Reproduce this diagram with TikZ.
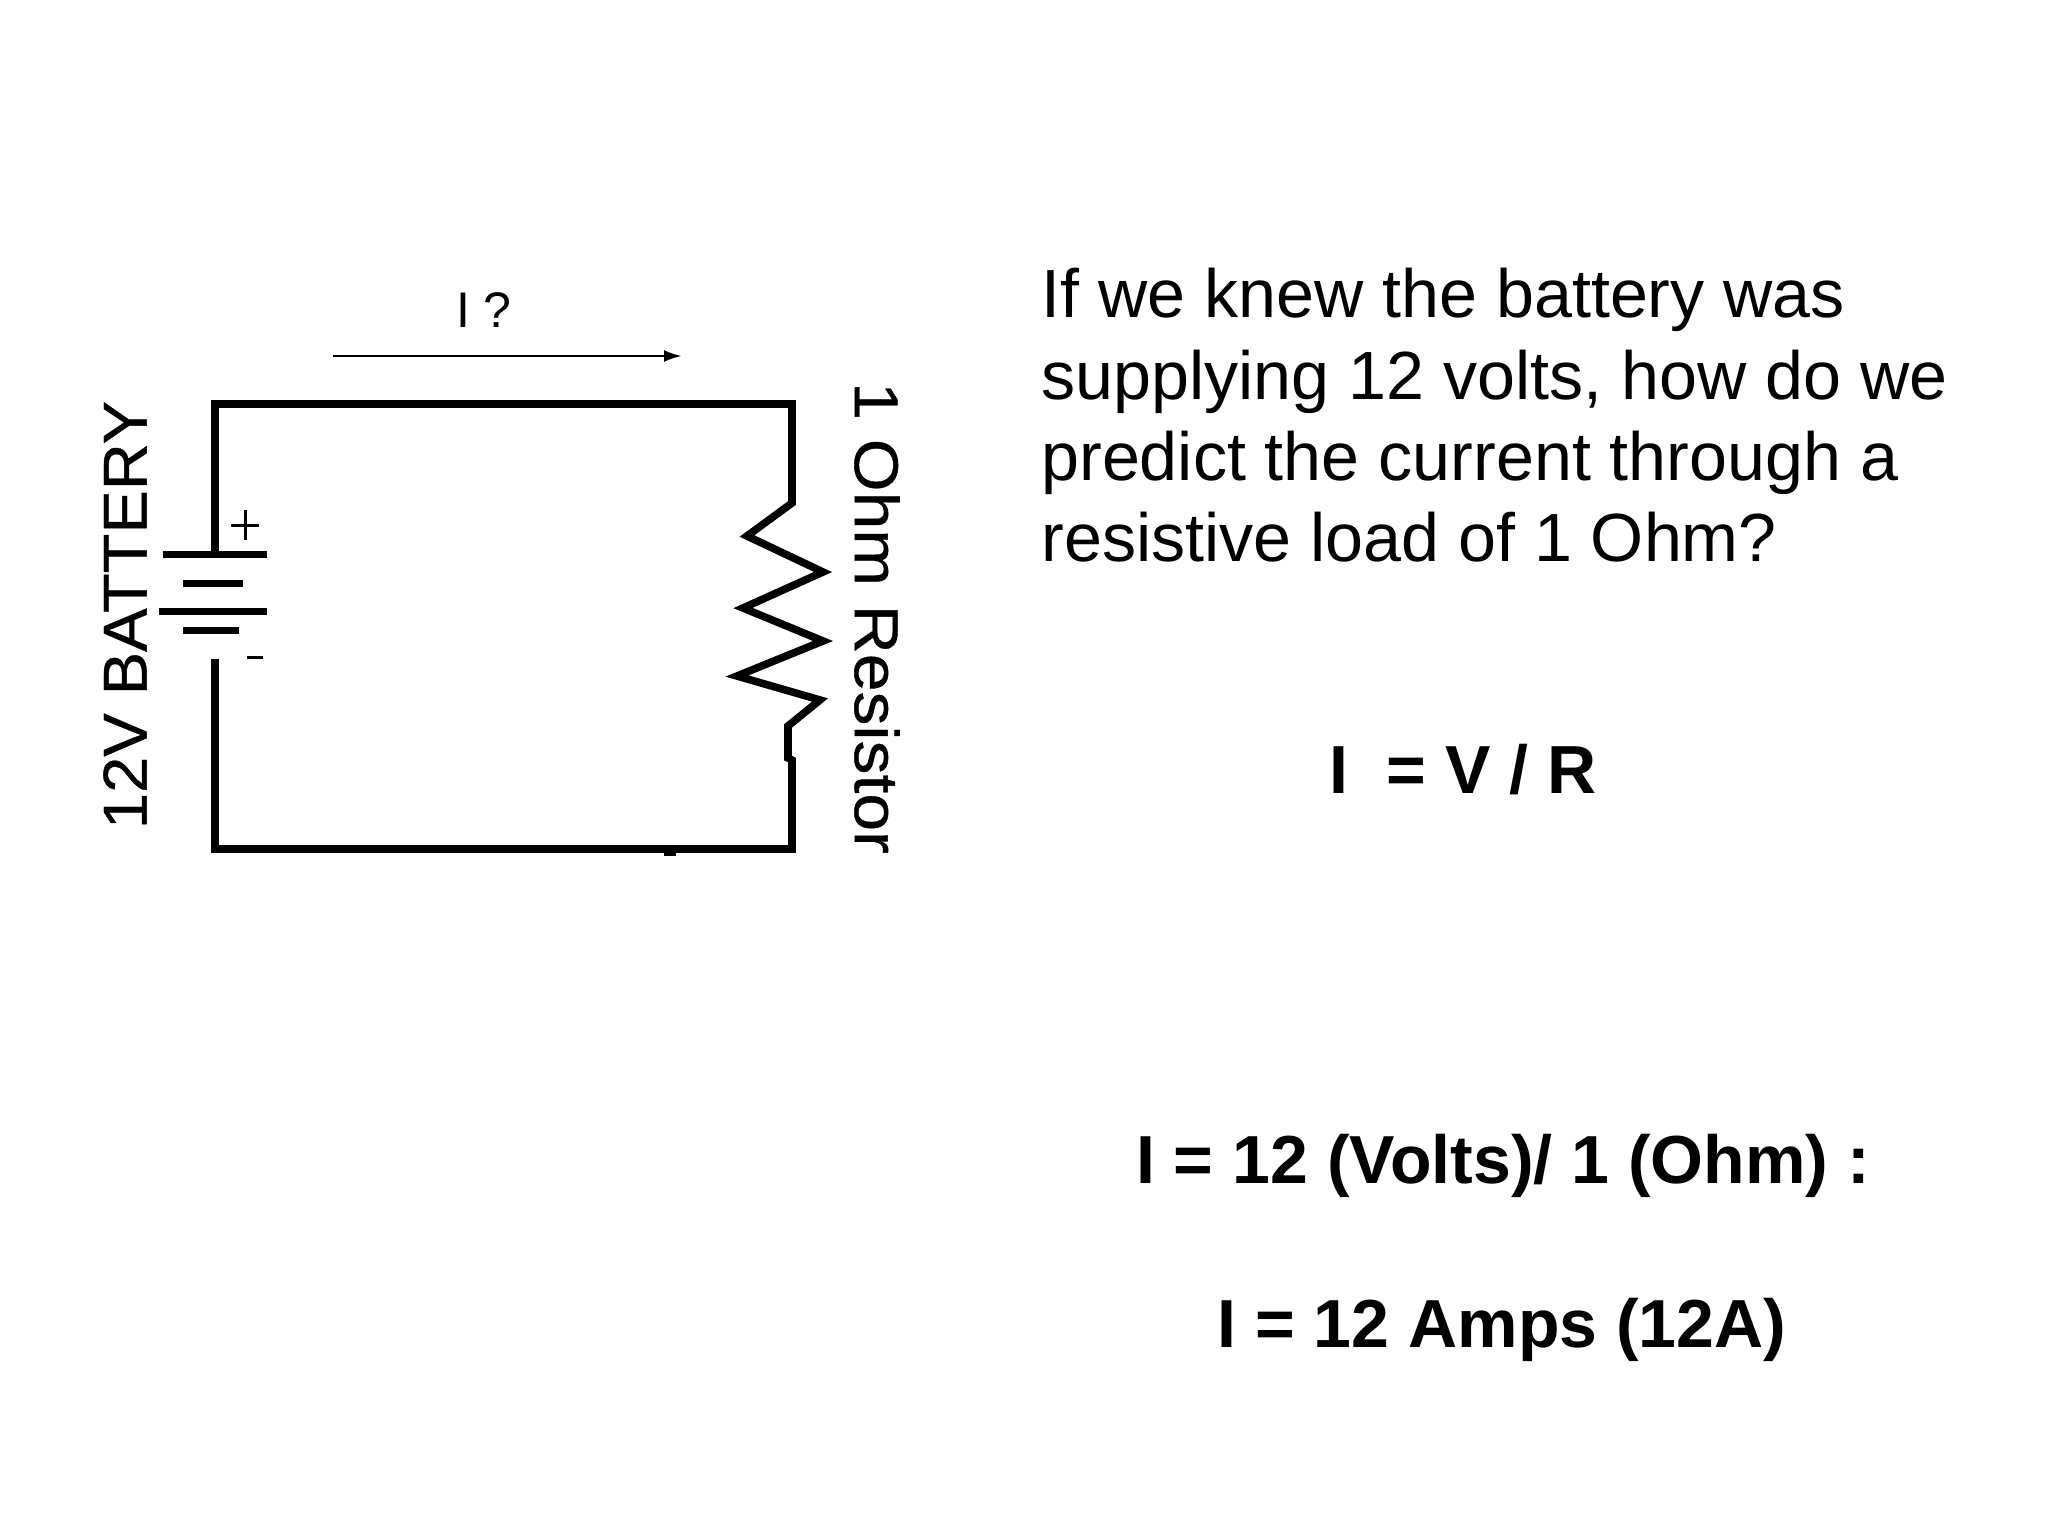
\documentclass[tikz,border=0pt]{standalone}
\usepackage{fontspec}
\setmainfont{Liberation Sans}
\newfontfamily\pixA{Liberation Sans}[FakeBold=0.6,FakeStretch=1.05]
\newfontfamily\pixB{Liberation Sans}[FakeBold=0.6,FakeStretch=1.095]
\usetikzlibrary{arrows.meta}
\tikzset{
 wire/.style={line width=3.8pt,line join=miter,line cap=butt,black},
 plate/.style={line width=3.5pt,black},
 thin sign/.style={line width=1.5pt,black},
 flow/.style={line width=1.4pt,black,-{Latex[length=9pt,width=6pt]}},
 big/.style={font=\fontsize{34.1}{40.6}\selectfont,align=left,inner sep=0pt},
 eq/.style={font=\fontsize{34}{40}\selectfont\bfseries,inner sep=0pt,anchor=center},
 rot/.style={inner sep=0pt}
}
\begin{document}
\begin{tikzpicture}[x=0.5pt,y=-0.5pt]
\useasboundingbox (0,0) rectangle (2048,1536);
% corners and terminals
\coordinate (plusT) at (215,554);
\coordinate (minusT) at (215,659);
\coordinate (tl) at (215,404);
\coordinate (tr) at (792,404);
\coordinate (bl) at (215,849);
\coordinate (br) at (792,849);
\draw[wire] (plusT) -- (tl) -- (tr) -- (792,503)
  -- (747,536) -- (823,572) -- (743,608) -- (823,641) -- (737,676) -- (820,700)
  -- (788,726) -- (788,758) -- (792,760) -- (br) -- (bl) -- (minusT);
% battery plates
\draw[plate] (163,554) -- (267,554);
\draw[plate] (183,583) -- (243,583);
\draw[plate] (159,611) -- (267,611);
\draw[plate] (183,630) -- (239,630);
% signs
\draw[thin sign] (231,525) -- (259,525) (245,510) -- (245,540);
\draw[thin sign] (247,657) -- (263,657);
% artefacts under the wire
\fill (664,852) rectangle (676,856);
\fill (690,853) -- (720,850) -- (690,850) -- cycle;
% current arrow
\coordinate (fa) at (333,356);
\coordinate (fb) at (682,356);
\draw[flow] (fa) -- (fb);
\node[inner sep=0pt,font=\fontsize{25}{28}\selectfont] (iq) at (484,310) {I ?};
% rotated labels
\node[rot,rotate=90,font=\pixA\fontsize{31}{34}\selectfont] (bat) at (125,615) {12V BATTERY};
\node[rot,rotate=-90,font=\pixB\fontsize{31}{34}\selectfont] (res) at (877,618) {1 Ohm Resistor};
% text
\node[big,anchor=north west] (q) at (1041,268) {If we knew the battery was\\supplying 12 volts, how do we\\predict the current through a\\resistive load of 1 Ohm?};
\node[eq] (e1) at (1463,770) {I\ \ = V / R};
\node[eq] (e2) at (1503,1166) {I = 12 (Volts)/ 1 (Ohm) :};
\node[eq] (e3) at (1502,1330) {I = 12 Amps (12A)};
\end{tikzpicture}
\end{document}
